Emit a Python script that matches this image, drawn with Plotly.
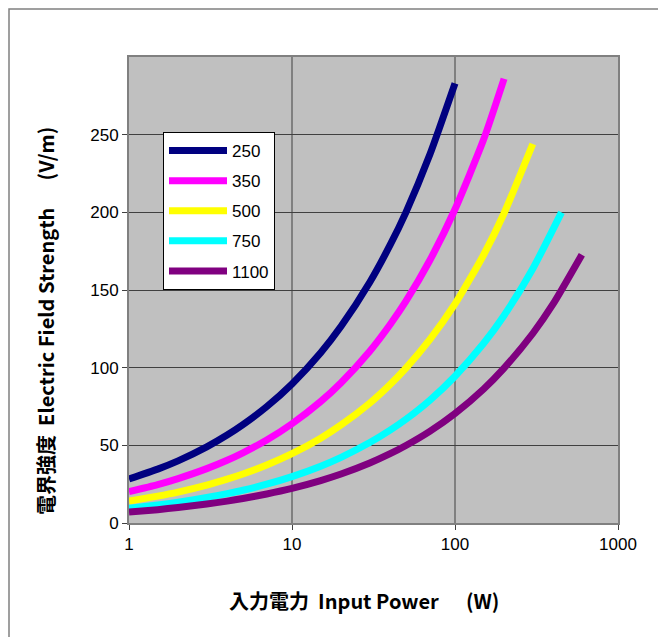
import plotly.graph_objects as go

# Input power (W) sample points and field strength (V/m)
series_names = ["250", "350", "500", "750", "1100"]
colors = ["#000080", "#FF00FF", "#FFFF00", "#00FFFF", "#800080"]

p_250 = [1, 1.5, 2, 3, 4, 5, 7, 10, 15, 20, 30, 40, 50, 70, 100]
e_250 = [28.3, 34.7, 40, 49, 56.6, 63.3, 74.9, 89.5, 109.6, 126.6, 155, 179, 200, 237, 283]

p_350 = [1, 1.5, 2, 3, 4, 5, 7, 10, 15, 20, 30, 40, 50, 70, 100, 150, 200]
e_350 = [20.2, 24.7, 28.6, 35, 40.4, 45.2, 53.4, 63.9, 78.2, 90.3, 110.6, 127.8, 142.8, 169, 202, 247, 286]

p_500 = [1, 1.5, 2, 3, 4, 5, 7, 10, 15, 20, 30, 40, 50, 70, 100, 150, 200, 300]
e_500 = [14.1, 17.3, 19.9, 24.4, 28.2, 31.5, 37.3, 44.6, 54.6, 63.1, 77.2, 89.2, 99.7, 118, 141, 172.7, 199.4, 244]

p_750 = [1, 1.5, 2, 3, 4, 5, 7, 10, 15, 20, 30, 40, 50, 70, 100, 150, 200, 300, 450]
e_750 = [9.45, 11.6, 13.4, 16.4, 18.9, 21.1, 25, 29.9, 36.6, 42.3, 51.8, 59.8, 66.8, 79, 94.5, 115.7, 133.6, 163.7, 200]

p_1100 = [1, 1.5, 2, 3, 4, 5, 7, 10, 15, 20, 30, 40, 50, 70, 100, 150, 200, 300, 400, 600]
e_1100 = [7.05, 8.6, 10, 12.2, 14.1, 15.8, 18.7, 22.3, 27.3, 31.5, 38.6, 44.6, 49.9, 59, 70.5, 86.3, 99.7, 122, 141, 172.7]

xs = [p_250, p_350, p_500, p_750, p_1100]
ys = [e_250, e_350, e_500, e_750, e_1100]

y_ticks = [0, 50, 100, 150, 200, 250]
x_ticks = [1, 10, 100, 1000]

x_title = "<b>入力電力  Input Power      (W)</b>"
y_title = "<b>電界強度  Electric Field Strength      (V/m)</b>"

fig = go.Figure()
for name, c, x, y in zip(series_names, colors, xs, ys):
    fig.add_trace(go.Scatter(x=x, y=y, mode="lines", name=name, legendgroup=name,
                             line=dict(color=c, width=7, shape="spline", smoothing=0.6)))

# page body adds an 8px offset, so the figure is 8px smaller and shifted
OFF = 8
W, H = 666 - OFF, 637 - OFF
L, R, T, B = 129 - OFF, 48, 57 - OFF, 114
pw, ph = W - L - R, H - T - B

font_main = "Liberation Sans, Arial, sans-serif"
font_cjk = "Noto Sans CJK JP, sans-serif"

def px_x(v):
    return (v - OFF - L) / pw

def px_y(v):
    return (H - B - (v - OFF)) / ph

fig.update_layout(
    width=W, height=H,
    margin=dict(l=L, r=R, t=T, b=B),
    paper_bgcolor="white",
    plot_bgcolor="#C0C0C0",
    font=dict(family=font_main, size=16, color="black"),
    showlegend=True,
    legend=dict(
        x=px_x(163), y=px_y(132), xanchor="left", yanchor="top",
        bgcolor="white", bordercolor="black", borderwidth=1,
        font=dict(family=font_main, size=17, color="black"),
        tracegroupgap=5, itemwidth=58,
    ),
    xaxis=dict(
        type="log", range=[0, 3],
        tickvals=x_ticks, ticktext=[str(v) for v in x_ticks],
        showgrid=True, gridcolor="#808080", gridwidth=1.5,
        showline=True, linecolor="#808080", linewidth=2, mirror=True,
        ticks="outside", ticklen=5, tickcolor="#404040",
        tickfont=dict(size=17),
        zeroline=False,
    ),
    yaxis=dict(
        range=[0, 300],
        tickvals=y_ticks,
        showgrid=True, gridcolor="#404040", gridwidth=1,
        showline=True, linecolor="#808080", linewidth=2, mirror=True,
        ticks="outside", ticklen=5, tickcolor="#404040",
        tickfont=dict(size=17),
        zeroline=False,
    ),
    annotations=[
        dict(text=x_title, xref="paper", yref="paper",
             x=px_x(364), y=px_y(600), xanchor="center", yanchor="middle",
             showarrow=False, font=dict(family=font_cjk, size=20, color="black")),
        dict(text=y_title, xref="paper", yref="paper", textangle=-90,
             x=px_x(45), y=px_y(321), xanchor="center", yanchor="middle",
             showarrow=False, font=dict(family=font_cjk, size=20, color="black")),
    ],
    shapes=[dict(
        type="rect", xref="paper", yref="paper",
        x0=px_x(9), x1=px_x(720),
        y0=px_y(720), y1=px_y(9),
        line=dict(color="#808080", width=1.5), fillcolor="rgba(0,0,0,0)",
        layer="below",
    )],
)

fig.write_html("out.html")
